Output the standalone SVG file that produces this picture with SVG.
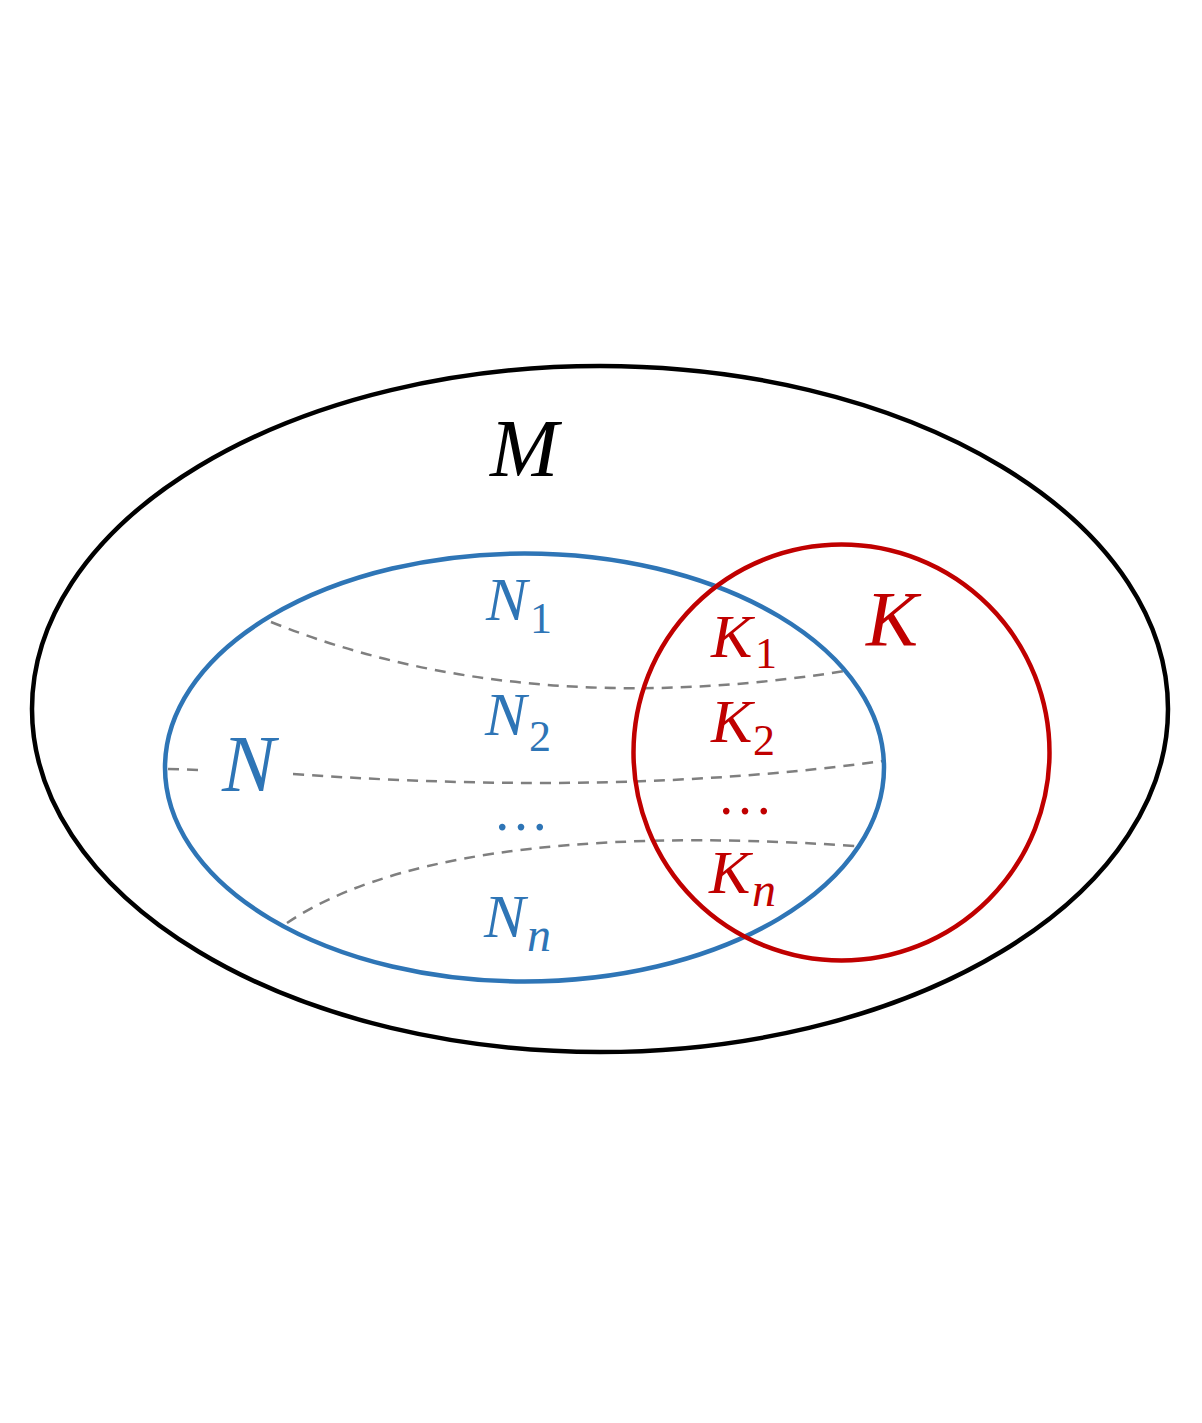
<svg xmlns="http://www.w3.org/2000/svg" width="1202" height="1423" viewBox="0 0 1202 1423">
<style>
.lbl{font-family:"Liberation Serif","DejaVu Serif",serif;font-style:italic}
.sub{font-family:"Liberation Serif","DejaVu Serif",serif;font-style:normal}
.subi{font-family:"Liberation Serif","DejaVu Serif",serif;font-style:italic}
.blue{fill:#2E75B6}
.red{fill:#C00000}
.dash{fill:none;stroke:#7F7F7F;stroke-width:2.5;stroke-dasharray:11 8}
</style>
<rect width="1202" height="1423" fill="#ffffff"/>
<g id="M">
<ellipse cx="600" cy="709" rx="568" ry="343" fill="none" stroke="#000" stroke-width="4.5"/>
<text class="lbl" x="490" y="476" font-size="82" fill="#000">M</text>
</g>
<g id="connectors">
<path class="dash" d="M271,622 Q520,722 845,671"/>
<path class="dash" d="M168,769 L202,770"/>
<path class="dash" d="M293,774 Q620,797 883,761"/>
<path class="dash" d="M287,923 C380,860 560,826 855,846"/>
</g>
<g id="N">
<ellipse cx="524.5" cy="767.5" rx="359.5" ry="214" fill="none" stroke="#2E75B6" stroke-width="4.5"/>
<text class="lbl blue" x="222" y="791" font-size="80">N</text>
</g>
<g id="K">
<circle cx="841.5" cy="752.5" r="208" fill="none" stroke="#C00000" stroke-width="4.5"/>
<text class="lbl red" x="866" y="645" font-size="78">K</text>
</g>
<g id="N1"><text class="lbl blue" x="486" y="620" font-size="62">N</text><text class="sub blue" x="530" y="633" font-size="44">1</text></g>
<g id="N2"><text class="lbl blue" x="485" y="735" font-size="62">N</text><text class="sub blue" x="529" y="751" font-size="44">2</text></g>
<g id="Ndots"><text class="sub blue" x="493" y="830" font-size="56">…</text></g>
<g id="Nn"><text class="lbl blue" x="484" y="937" font-size="62">N</text><text class="subi blue" x="527" y="951" font-size="48">n</text></g>
<g id="K1"><text class="lbl red" x="711" y="657" font-size="62">K</text><text class="sub red" x="755" y="668" font-size="44">1</text></g>
<g id="K2"><text class="lbl red" x="711" y="742" font-size="62">K</text><text class="sub red" x="753" y="755" font-size="44">2</text></g>
<g id="Kdots"><text class="sub red" x="717" y="814" font-size="56">…</text></g>
<g id="Kn"><text class="lbl red" x="709" y="893" font-size="62">K</text><text class="subi red" x="752" y="906" font-size="48">n</text></g>
</svg>
